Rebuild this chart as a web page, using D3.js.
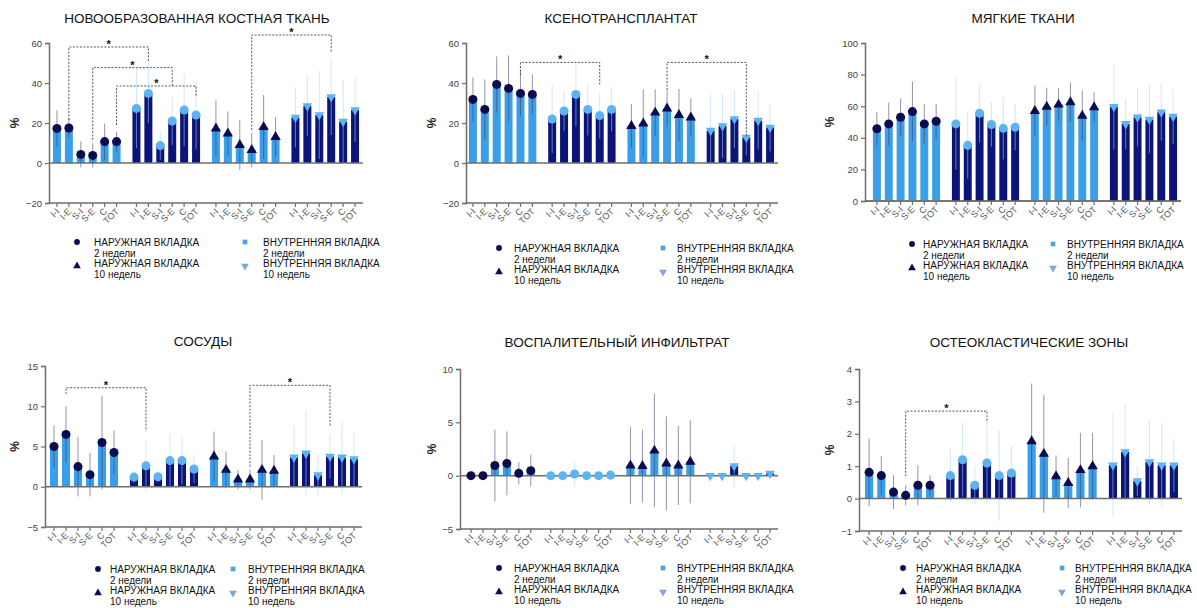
<!DOCTYPE html>
<html>
<head>
<meta charset="utf-8">
<script src="https://cdn.jsdelivr.net/npm/d3@7"></script>
<style>
  body { margin: 0; background: #fff; font-family: "Liberation Sans", Arial, sans-serif; }
  .title { font-size: 13.5px; fill: #111; text-anchor: middle; }
  .tick-y { font-size: 9.5px; fill: #444; text-anchor: end; }
  .tick-x { font-size: 9px; fill: #555; text-anchor: end; }
  .ylab { font-size: 12px; font-weight: bold; fill: #222; text-anchor: middle; }
  .leg { font-size: 10px; fill: #111; }
</style>
</head>
<body>
<div class="js-container"></div>
<script>
;(function() {
  'use strict';

  // x categories inside each group, 4 groups per chart
  var categories = ['I-I', 'I-E', 'S-I', 'S-E', 'C', 'TOT'];

  var seriesLabels = [
    ['НАРУЖНАЯ ВКЛАДКА', '2 недели'],
    ['ВНУТРЕННЯЯ ВКЛАДКА', '2 недели'],
    ['НАРУЖНАЯ ВКЛАДКА', '10 недель'],
    ['ВНУТРЕННЯЯ ВКЛАДКА', '10 недель']
  ];

  var titles = [
    'НОВООБРАЗОВАННАЯ КОСТНАЯ ТКАНЬ',
    'КСЕНОТРАНСПЛАНТАТ',
    'МЯГКИЕ ТКАНИ',
    'СОСУДЫ',
    'ВОСПАЛИТЕЛЬНЫЙ ИНФИЛЬТРАТ',
    'ОСТЕОКЛАСТИЧЕСКИЕ ЗОНЫ'
  ];

  // means and SDs, one row per group
  var boneMean = [
    [17.3, 17.5, 4.3, 3.8, 10.7, 10.7],
    [27.3, 34.8, 8.7, 21, 26.5, 24],
    [17.3, 14.8, 9, 6.5, 18, 13],
    [22.8, 28.5, 24, 33, 20.7, 26.5]
  ];
  var boneSd = [
    [9, 5, 6.5, 6, 9, 5],
    [20, 15, 7, 12, 18, 17],
    [14, 11, 12.5, 8.5, 16, 10],
    [15, 15, 22, 19, 21, 16]
  ];

  var xenoMean = [
    [31.8, 26.8, 39.3, 37.3, 34.8, 34.3],
    [22, 26, 34.3, 26.8, 23.7, 26.8],
    [18.5, 19.8, 25.2, 27.3, 24, 22.8],
    [16.2, 18.5, 22, 12.8, 21.2, 17.8]
  ];
  var xenoSd = [
    [11, 15, 14, 16.5, 11.5, 10],
    [17, 10, 16, 13, 11.5, 11],
    [11, 17, 11.6, 9, 13, 9.5],
    [18, 16, 14.5, 9, 14.5, 12]
  ];

  var softMean = [
    [45.7, 48.8, 53, 56.6, 48.8, 50.5],
    [48.8, 35.2, 55.5, 48.4, 46, 46.7],
    [57, 59.7, 61, 62.5, 54, 59.3],
    [59.7, 48.8, 53, 51.6, 56.2, 53.5]
  ];
  var softSd = [
    [10.5, 13.5, 12, 19, 12.5, 11],
    [29, 21, 18.5, 14, 19.6, 14.7],
    [16, 12, 10.5, 12.5, 16, 9.5],
    [27, 16, 18.5, 21.4, 18, 17.4]
  ];

  var vesselMean = [
    [5.0, 6.5, 2.5, 1.5, 5.5, 4.25],
    [1.2, 2.6, 1.25, 3.25, 3.25, 2.2],
    [3.75, 2.1, 0.9, 0.9, 2.1, 2.0],
    [3.65, 4.15, 1.45, 3.75, 3.65, 3.45]
  ];
  var vesselSd = [
    [2.6, 3.5, 3.7, 2.7, 5.8, 2.75],
    [0.7, 3.2, 0.65, 3.4, 3, 1.75],
    [3.1, 2.3, 1.2, 1.2, 3.7, 1.95],
    [4, 5.2, 2.6, 2.7, 4.5, 3.4]
  ];

  var inflamMean = [
    [0, 0, 0.95, 1.15, 0.22, 0.47],
    [0, 0, 0.15, 0, 0, 0.05],
    [0.95, 0.9, 2.35, 1.15, 0.95, 1.3],
    [0, 0, 0.9, 0, 0, 0.2]
  ];
  var inflamSd = [
    [0, 0, 3.35, 3.0, 1.05, 1.5],
    [0, 0, 1.15, 0, 0, 0.1],
    [3.6, 3.4, 5.3, 4.4, 3.7, 3.9],
    [0, 0, 2.0, 0, 0, 0.2]
  ];

  var osteoMean = [
    [0.81, 0.71, 0.2, 0.1, 0.41, 0.41],
    [0.71, 1.2, 0.41, 1.1, 0.71, 0.79],
    [1.77, 1.38, 0.69, 0.48, 0.88, 1.0],
    [1.03, 1.44, 0.54, 1.13, 1.03, 1.03]
  ];
  var osteoSd = [
    [1.04, 0.6, 0.52, 0.31, 0.62, 0.31],
    [0.86, 1.14, 0.58, 1.19, 1.4, 0.85],
    [1.78, 1.82, 0.64, 0.78, 1.15, 1.03],
    [1.6, 1.48, 0.46, 1.3, 1.3, 0.82]
  ];

  // significance brackets: [group, category] to [group, category],
  // top value, value where left / right legs end
  var boneBrackets = [
    { from: [0, 1], to: [1, 1], top: 58, left: 21.5, right: 50.7 },
    { from: [0, 3], to: [1, 3], top: 47.7, left: 11.5, right: 38 },
    { from: [0, 5], to: [1, 5], top: 38.5, left: 19, right: 33 },
    { from: [2, 3], to: [3, 3], top: 64, left: 16.5, right: 55.7 }
  ];
  var xenoBrackets = [
    { from: [0, 4], to: [1, 4], top: 50.3, left: 44, right: 39 },
    { from: [2, 3], to: [3, 3], top: 50.3, left: 36.5, right: 13 }
  ];
  var vesselBrackets = [
    { from: [0, 1], to: [1, 1], top: 12.3, left: 11.5, right: 6.9 },
    { from: [2, 3], to: [3, 3], top: 12.6, left: 2.5, right: 7.5 }
  ];
  var osteoBrackets = [
    { from: [0, 3], to: [1, 3], top: 2.7, left: 0.69, right: 2.34 }
  ];

  var yDomains = [[-20, 60], [-20, 60], [0, 100], [-5, 15], [-5, 10], [-1, 4]];
  var yTicks = [
    [-20, 0, 20, 40, 60],
    [-20, 0, 20, 40, 60],
    [0, 20, 40, 60, 80, 100],
    [-5, 0, 5, 10, 15],
    [-5, 0, 5, 10],
    [-1, 0, 1, 2, 3, 4]
  ];

  // layout of the six panels (pixels)
  var layout = [
    { axisX: 49,  bar0: 57,  bar1: 355,  top: 43,  bottom: 203, titleX: 197,  titleY: 23,  leg: [77, 94, 245, 263],     legY: 242, labX: 15 },
    { axisX: 466, bar0: 473, bar1: 770,  top: 43,  bottom: 203, titleX: 621,  titleY: 23,  leg: [499, 514, 663, 677],   legY: 248, labX: 432 },
    { axisX: 865, bar0: 877, bar1: 1173, top: 43,  bottom: 201, titleX: 1023, titleY: 23,  leg: [912, 923, 1053, 1067], legY: 244, labX: 830 },
    { axisX: 45,  bar0: 54,  bar1: 354,  top: 366, bottom: 527, titleX: 203,  titleY: 346, leg: [98, 110, 233, 248],    legY: 569, labX: 15 },
    { axisX: 460, bar0: 471, bar1: 770,  top: 369, bottom: 529, titleX: 617,  titleY: 347, leg: [499, 514, 663, 677],   legY: 568, labX: 432 },
    { axisX: 859, bar0: 869, bar1: 1174, top: 369, bottom: 531, titleX: 1029, titleY: 347, leg: [903, 916, 1062, 1075], legY: 568, labX: 830 }
  ];

  var means = [boneMean, xenoMean, softMean, vesselMean, inflamMean, osteoMean];
  var sds = [boneSd, xenoSd, softSd, vesselSd, inflamSd, osteoSd];
  var brackets = [boneBrackets, xenoBrackets, [], vesselBrackets, [], osteoBrackets];

  var light = '#3a9ee8';
  var dark = '#0b1577';
  var markDark = '#0b0b4e';
  var markLight = '#5db3f1';
  var axisColor = '#6e6e6e';

  var barFill = [light, dark, light, dark];
  var markFill = [markDark, markLight, markDark, markLight];
  var errColor = ['#3c3c62', '#a9d3f5', '#3c3c62', '#a9d3f5'];
  var markType = [d3.symbolCircle, d3.symbolCircle, d3.symbolTriangle, d3.symbolTriangle];
  var markSize = [64, 64, 46, 40];
  var legendFill = ['#0b0b4e', '#4fa3dc', '#0b0b4e', '#7fa6d6'];
  var legendType = [d3.symbolCircle, d3.symbolSquare, d3.symbolTriangle, d3.symbolTriangle];
  var legendRotate = [0, 0, 0, 180];

  var svg = d3.select('.js-container').append('svg')
      .attr('width', 1197)
      .attr('height', 608);

  for (var p = 0; p < 6; p++) {
    drawPanel(p);
  }

  function drawPanel(p) {
    var L = layout[p];
    var g = svg.append('g');
    var mean = means[p];
    var sd = sds[p];

    var groupX = d3.scaleBand()
        .domain([0, 1, 2, 3])
        .range([L.bar0 - 8, L.bar1 + 8])
        .paddingInner(0.1)
        .paddingOuter(0.025);

    var catX = d3.scaleBand()
        .domain(categories)
        .range([0, groupX.bandwidth()])
        .paddingInner(0.33)
        .paddingOuter(0.165);

    var y = d3.scaleLinear()
        .domain(yDomains[p])
        .range([L.bottom, L.top]);

    function cx(gi, ci) {
      return groupX(gi) + catX(categories[ci]) + catX.bandwidth() / 2;
    }

    // title
    g.append('text').attr('class', 'title')
        .attr('x', L.titleX).attr('y', L.titleY)
        .text(titles[p]);

    // y axis
    var yAxis = d3.axisLeft(y).tickValues(yTicks[p]).tickFormat(d3.format('d'))
        .tickSize(4).tickPadding(3);
    var ya = g.append('g').attr('transform', 'translate(' + L.axisX + ',0)').call(yAxis);
    ya.select('.domain').attr('stroke', axisColor).attr('stroke-width', 1.5);
    ya.selectAll('.tick line').attr('stroke', axisColor).attr('stroke-width', 1.2);
    ya.selectAll('.tick text').attr('class', 'tick-y').attr('fill', '#444');

    g.append('text').attr('class', 'ylab')
        .attr('transform', 'translate(' + (L.labX + 4) + ',' + ((L.top + L.bottom) / 2) + ') rotate(-90)')
        .text('%');

    // x axis along the bottom, one tick per bar
    var xEnd = L.bar1 + 8;
    g.append('line')
        .attr('x1', L.axisX).attr('x2', xEnd)
        .attr('y1', L.bottom).attr('y2', L.bottom)
        .attr('stroke', axisColor).attr('stroke-width', 1.5);

    var ticks = [];
    for (var gi = 0; gi < 4; gi++) {
      for (var ci = 0; ci < 6; ci++) {
        ticks.push({ x: cx(gi, ci), label: categories[ci] });
      }
    }
    g.selectAll('.xt').data(ticks).enter().append('line')
        .attr('x1', function(d) { return d.x; })
        .attr('x2', function(d) { return d.x; })
        .attr('y1', L.bottom).attr('y2', L.bottom + 4)
        .attr('stroke', axisColor).attr('stroke-width', 1.2);
    g.selectAll('.xl').data(ticks).enter().append('text')
        .attr('class', 'tick-x')
        .attr('transform', function(d) {
          return 'translate(' + (d.x + 3) + ',' + (L.bottom + 9) + ') rotate(-45)';
        })
        .text(function(d) { return d.label; });

    // bars, error bars, markers
    var items = [];
    for (var a = 0; a < 4; a++) {
      for (var b = 0; b < 6; b++) {
        items.push({ g: a, c: b, v: mean[a][b], s: sd[a][b] });
      }
    }
    var bw = catX.bandwidth();

    g.selectAll('.bar').data(items).enter().append('rect')
        .attr('x', function(d) { return cx(d.g, d.c) - bw / 2; })
        .attr('width', bw)
        .attr('y', function(d) { return Math.min(y(d.v), y(0)); })
        .attr('height', function(d) { return Math.abs(y(0) - y(d.v)); })
        .attr('fill', function(d) { return barFill[d.g]; });

    g.selectAll('.err').data(items.filter(function(d) { return d.s > 0; })).enter().append('line')
        .attr('x1', function(d) { return cx(d.g, d.c); })
        .attr('x2', function(d) { return cx(d.g, d.c); })
        .attr('y1', function(d) { return y(d.v - d.s); })
        .attr('y2', function(d) { return y(d.v + d.s); })
        .attr('stroke', function(d) { return errColor[d.g]; })
        .attr('stroke-opacity', 0.55)
        .attr('stroke-width', 1);

    // zero line
    g.append('line')
        .attr('x1', L.axisX).attr('x2', xEnd)
        .attr('y1', y(0)).attr('y2', y(0))
        .attr('stroke', axisColor).attr('stroke-width', 1.5);

    g.selectAll('.mk').data(items).enter().append('path')
        .attr('transform', function(d) {
          return 'translate(' + cx(d.g, d.c) + ',' + y(d.v) + ')' + (d.g === 3 ? ' rotate(180)' : '');
        })
        .attr('d', function(d) { return d3.symbol().type(markType[d.g]).size(markSize[d.g])(); })
        .attr('fill', function(d) { return markFill[d.g]; });

    // significance brackets
    brackets[p].forEach(function(br) {
      var x1 = cx(br.from[0], br.from[1]);
      var x2 = cx(br.to[0], br.to[1]);
      var yt = y(br.top);
      g.append('path')
          .attr('d', 'M' + x1 + ',' + y(br.left) + 'V' + yt + 'H' + x2 + 'V' + y(br.right))
          .attr('fill', 'none')
          .attr('stroke', '#555')
          .attr('stroke-width', 1)
          .attr('stroke-dasharray', '2,1.5');
      g.append('text')
          .attr('x', (x1 + x2) / 2).attr('y', yt + 1)
          .attr('text-anchor', 'middle')
          .attr('font-size', 11).attr('font-weight', 'bold').attr('fill', '#111')
          .text('*');
    });

    // legend: marker x, text x (left column), marker x, text x (right column)
    for (var k = 0; k < 4; k++) {
      var right = (k % 2 === 1);
      var mx = right ? L.leg[2] : L.leg[0];
      var tx = right ? L.leg[3] : L.leg[1];
      var row = (k < 2) ? 0 : 1;
      var ly = L.legY + row * 21;
      g.append('path')
          .attr('transform', 'translate(' + mx + ',' + (ly + row * 3) + ') rotate(' + legendRotate[k] + ')')
          .attr('d', d3.symbol().type(legendType[k]).size(k === 1 ? 22 : 26)())
          .attr('fill', legendFill[k]);
      var t = g.append('text').attr('class', 'leg')
          .attr('x', tx).attr('y', ly + 3.5);
      t.append('tspan').attr('x', tx).text(seriesLabels[k][0]);
      t.append('tspan').attr('x', tx).attr('dy', 11).text(seriesLabels[k][1]);
    }
  }
}());
</script>
</body>
</html>
